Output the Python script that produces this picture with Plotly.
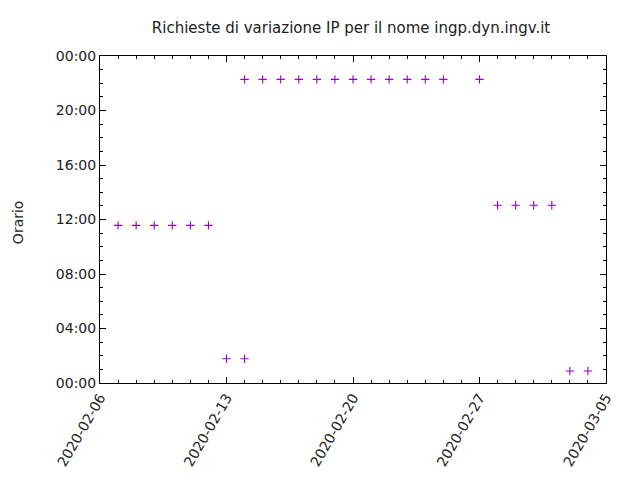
import plotly.graph_objects as go

dates = ["2020-02-07", "2020-02-08", "2020-02-09", "2020-02-10", "2020-02-11", "2020-02-12",
         "2020-02-13", "2020-02-14",
         "2020-02-14", "2020-02-15", "2020-02-16", "2020-02-17", "2020-02-18", "2020-02-19",
         "2020-02-20", "2020-02-21", "2020-02-22", "2020-02-23", "2020-02-24", "2020-02-25",
         "2020-02-27",
         "2020-02-28", "2020-02-29", "2020-03-01", "2020-03-02",
         "2020-03-03", "2020-03-04"]
times = ["11:34", "11:34", "11:34", "11:34", "11:34", "11:34",
         "01:47", "01:47",
         "22:17", "22:17", "22:17", "22:17", "22:17", "22:17",
         "22:17", "22:17", "22:17", "22:17", "22:17", "22:17",
         "22:17",
         "13:03", "13:03", "13:03", "13:03",
         "00:53", "00:53"]
x_ticks = ["2020-02-06", "2020-02-13", "2020-02-20", "2020-02-27", "2020-03-05"]

title = "Richieste di variazione IP per il nome ingp.dyn.ingv.it"
y_label = "Orario"

y_vals = ["2000-01-01 " + t + ":00" for t in times]

fig = go.Figure()
fig.add_trace(go.Scatter(
    x=dates, y=y_vals, mode="markers",
    marker=dict(symbol="cross-thin", size=6, line=dict(color="#9400D3", width=1.1), color="#9400D3"),
    showlegend=False, cliponaxis=False,
))

FONT = "DejaVu Sans"
TXT = "#222"
axis_common = dict(
    showline=True, linecolor="black", linewidth=1, mirror="allticks",
    ticks="inside", ticklen=6, tickcolor="black", showgrid=False, zeroline=False,
    tickfont=dict(family=FONT, size=14, color=TXT),
)
fig.update_xaxes(
    type="date", range=["2020-02-06", "2020-03-05"],
    tickvals=x_ticks, ticktext=x_ticks, tickangle=-60,
    minor=dict(dtick=86400000, tick0="2020-02-06", ticks="inside", ticklen=3, tickcolor="black"),
    **axis_common,
)
fig.update_yaxes(
    type="date", range=["2000-01-01 00:00:00", "2000-01-02 00:00:00"],
    dtick=4 * 3600000, tick0="2000-01-01", tickformat="%H:%M",
    minor=dict(dtick=3600000, ticks="inside", ticklen=3, tickcolor="black"),
    **axis_common,
)
fig.add_annotation(
    text=y_label, textangle=-90, xref="paper", yref="paper",
    x=-0.162, y=0.492, xanchor="center", yanchor="middle", showarrow=False,
    font=dict(family=FONT, size=14, color=TXT),
)
fig.update_layout(
    width=640, height=480,
    margin=dict(l=92, r=42, t=48, b=105),
    paper_bgcolor="white", plot_bgcolor="white",
    title=dict(text=title, x=0.536, xanchor="center", y=0.958, yanchor="middle",
               font=dict(family=FONT, size=15, color=TXT)),
    font=dict(family=FONT, size=14, color=TXT),
)
fig.write_html("out.html")
